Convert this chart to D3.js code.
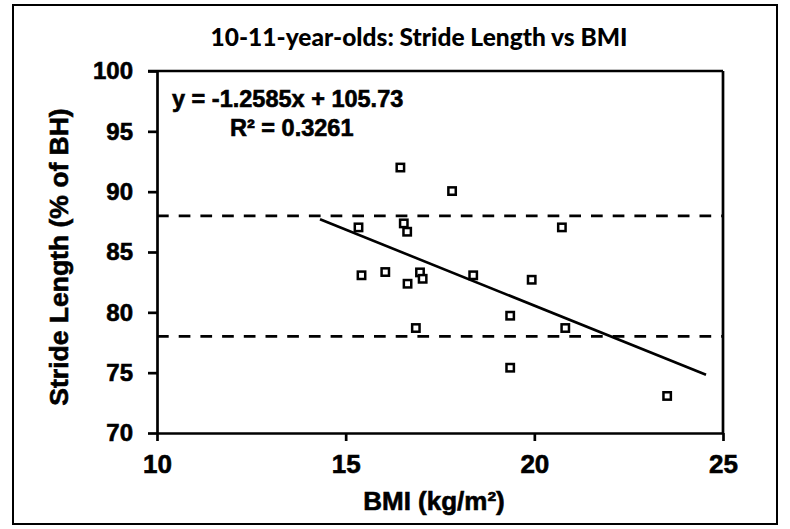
<!DOCTYPE html>
<html>
<head>
<meta charset="utf-8">
<script src="https://cdn.jsdelivr.net/npm/d3@7"></script>
<style>
  html, body { margin: 0; padding: 0; background: #fff; }
  svg { display: block; }
  .axis text { font-family: "Liberation Sans", Arial, sans-serif; font-weight: bold; fill: #000; stroke: #000; stroke-width: 0.6px; }
  .label { font-family: "Liberation Sans", Arial, sans-serif; font-weight: bold; fill: #000; stroke: #000; stroke-width: 0.6px; }
</style>
</head>
<body>
<svg id="chart" width="790" height="529"></svg>
<script>
// BMI (kg/m²) and stride length (% of body height) for each child
const bmi = [16.45, 17.82, 15.34, 16.54, 16.63, 20.73, 15.42, 16.05, 16.64,
             16.97, 17.04, 18.38, 19.93, 19.36, 16.86, 20.82, 19.36, 23.52];
const strideLength = [92.0, 90.05, 87.04, 87.37, 86.68, 87.04, 83.07, 83.34, 82.37,
                      83.31, 82.78, 83.07, 82.7, 79.72, 78.7, 78.7, 75.41, 73.07];

// Linear trend fitted to the points
const trendSlope = -1.2585;
const trendIntercept = 105.73;
const trendRSquared = 0.3261;
const trendExtent = [14.32, 24.55];

// Horizontal reference band limits
const referenceLevels = [88, 78];

const xTicks = [10, 15, 20, 25];
const yTicks = [70, 75, 80, 85, 90, 95, 100];

const titleText = "10-11-year-olds: Stride Length vs BMI";
const xTitle = "BMI (kg/m²)";
const yTitle = "Stride Length (% of BH)";

const svg = d3.select("#chart");

const plot = { left: 157, right: 723, top: 71, bottom: 433 };

const x = d3.scaleLinear().domain([10, 25]).range([plot.left, plot.right]);
const y = d3.scaleLinear().domain([70, 100]).range([plot.bottom, plot.top]);

// Outer chart frame
svg.append("rect")
  .attr("x", 13).attr("y", 5)
  .attr("width", 764).attr("height", 519)
  .attr("fill", "#fff")
  .attr("stroke", "#000")
  .attr("stroke-width", 2);

// Title
svg.append("text")
  .attr("x", 419).attr("y", 46)
  .attr("text-anchor", "middle")
  .style("font-family", "Lato, 'Open Sans', sans-serif")
  .style("font-weight", "900")
  .style("font-size", "24.5px")
  .style("fill", "#000")
  .text(titleText);

// Plot frame: top and right edges
svg.append("line")
  .attr("x1", plot.left - 9).attr("x2", plot.right)
  .attr("y1", plot.top).attr("y2", plot.top)
  .attr("stroke", "#000").attr("stroke-width", 2.7);
svg.append("line")
  .attr("x1", plot.right).attr("x2", plot.right)
  .attr("y1", plot.top).attr("y2", plot.bottom)
  .attr("stroke", "#000").attr("stroke-width", 2.7);

// Reference lines
svg.selectAll("line.ref")
  .data(referenceLevels)
  .join("line")
  .attr("class", "ref")
  .attr("x1", plot.left).attr("x2", plot.right)
  .attr("y1", d => y(d)).attr("y2", d => y(d))
  .attr("stroke", "#000")
  .attr("stroke-width", 2.8)
  .attr("stroke-dasharray", "11.7,10");

// Trend line
svg.append("line")
  .attr("x1", x(trendExtent[0]))
  .attr("y1", y(trendSlope * trendExtent[0] + trendIntercept))
  .attr("x2", x(trendExtent[1]))
  .attr("y2", y(trendSlope * trendExtent[1] + trendIntercept))
  .attr("stroke", "#000")
  .attr("stroke-width", 2.6);

// Axes
const xAxis = d3.axisBottom(x).tickValues(xTicks).tickSize(8).tickSizeOuter(0).tickPadding(14);
const yAxis = d3.axisLeft(y).tickValues(yTicks).tickSize(9).tickSizeOuter(0).tickPadding(15);

const gx = svg.append("g").attr("class", "axis")
  .attr("transform", `translate(0,${plot.bottom})`)
  .call(xAxis);
gx.selectAll("text").style("font-size", "26px");

const gy = svg.append("g").attr("class", "axis")
  .attr("transform", `translate(${plot.left},0)`)
  .call(yAxis);
gy.selectAll("text").style("font-size", "24px");

svg.selectAll(".axis path, .axis line")
  .attr("stroke", "#000")
  .attr("stroke-width", 2.7);

// Data points: open squares
const pts = bmi.map((b, i) => ({ b, s: strideLength[i] }));
svg.selectAll("rect.pt")
  .data(pts)
  .join("rect")
  .attr("class", "pt")
  .attr("x", d => x(d.b) - 3.7)
  .attr("y", d => y(d.s) - 3.7)
  .attr("width", 7.4).attr("height", 7.4)
  .attr("fill", "#fff")
  .attr("stroke", "#000")
  .attr("stroke-width", 2.5);

// Equation annotation
svg.append("text")
  .attr("class", "label")
  .attr("x", 172).attr("y", 107)
  .style("font-size", "23.5px")
  .text(`y = ${trendSlope}x + ${trendIntercept}`);
svg.append("text")
  .attr("class", "label")
  .attr("x", 230).attr("y", 136)
  .style("font-size", "23.5px")
  .text(`R² = ${trendRSquared}`);

// Axis titles
svg.append("text")
  .attr("class", "label")
  .attr("x", 434).attr("y", 510)
  .attr("text-anchor", "middle")
  .style("font-size", "26px")
  .text(xTitle);

svg.append("text")
  .attr("class", "label")
  .attr("transform", "translate(68,257) rotate(-90)")
  .attr("text-anchor", "middle")
  .style("font-size", "26.5px")
  .text(yTitle);
</script>
</body>
</html>
